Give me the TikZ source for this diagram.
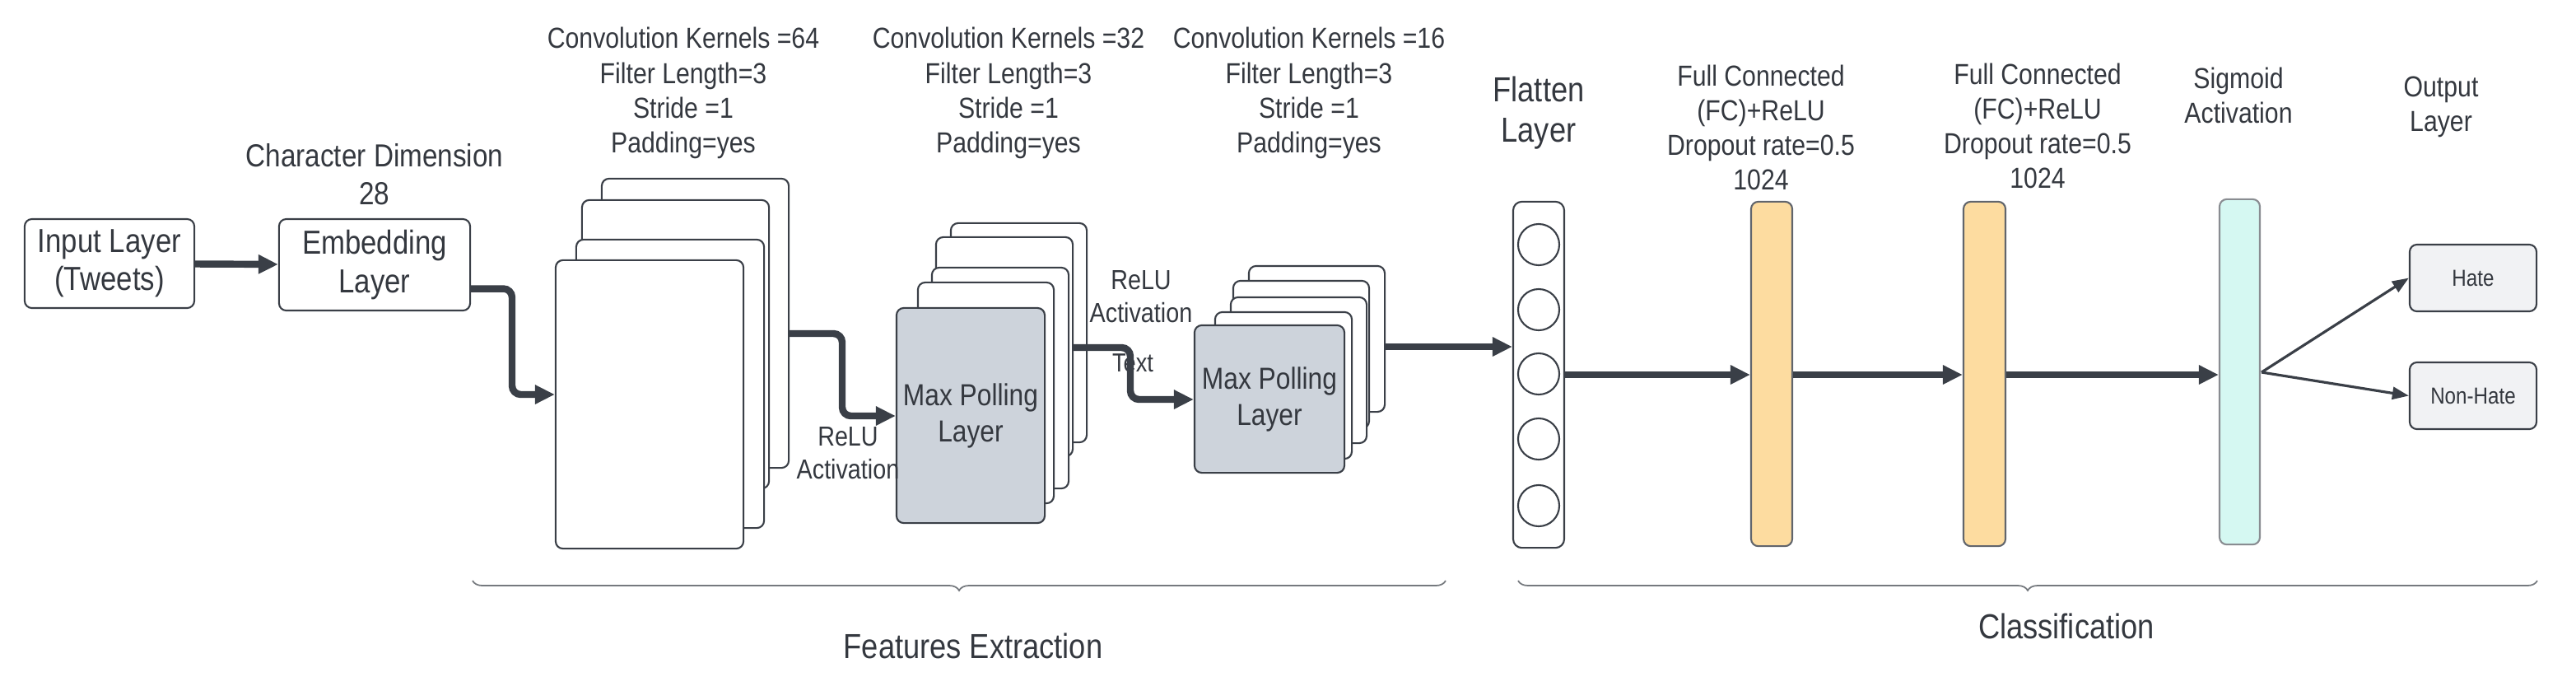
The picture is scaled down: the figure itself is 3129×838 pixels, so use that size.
\documentclass[tikz,border=0pt]{standalone}
\usepackage{fontspec}
\setmainfont{Liberation Sans}[FakeStretch=0.86]
\usetikzlibrary{arrows.meta,decorations.pathreplacing}
\definecolor{txt}{HTML}{34383F}
\definecolor{ln}{HTML}{3A3F47}
\definecolor{pool}{HTML}{CDD3DB}
\definecolor{fc}{HTML}{FDDCA0}
\definecolor{sg}{HTML}{D5F8F2}
\definecolor{outb}{HTML}{F1F2F4}
\begin{document}
\begin{tikzpicture}[x=0.01cm,y=-0.01cm,
  every node/.style={text=txt,inner sep=0pt,align=center},
  box/.style={draw=ln,line width=0.6pt,rounded corners=2.5pt,fill=white},
  arr/.style={draw=ln,line width=2.4pt,rounded corners=3pt,-{Triangle[length=0.24cm,width=0.22cm]}},
  thin/.style={draw=ln,line width=0.9pt,-{Triangle[length=0.2cm,width=0.15cm]}},
  brc/.style={draw=ln!70,line width=0.5pt,decorate,decoration={brace,amplitude=0.12cm}},
  top/.style={font=\fontsize{10}{12}\selectfont},
  big/.style={font=\fontsize{11.5}{13.2}\selectfont}]
\useasboundingbox (0,0) rectangle (3129,838);
% input and embedding
\node[box,minimum width=2.06cm,minimum height=1.08cm,big] (inp) at (133,320) {Input Layer\\(Tweets)};
\node[box,minimum width=2.32cm,minimum height=1.11cm,big] (emb) at (455,321.5) {Embedding\\Layer};
\node[font=\fontsize{11}{13}\selectfont] (chd) at (455,212) {Character Dimension\\28};
% conv1
\node[box,minimum width=2.27cm,minimum height=3.51cm] (c1d) at (844.5,392.5) {};
\node[box,minimum width=2.27cm,minimum height=3.50cm] (c1c) at (820.5,418) {};
\node[box,minimum width=2.28cm,minimum height=3.50cm] (c1b) at (814,466) {};
\node[box,minimum width=2.28cm,minimum height=3.50cm] (c1a) at (789,491) {};
% pool1
\node[box,minimum width=1.65cm,minimum height=2.66cm] (p1e) at (1237.5,404) {};
\node[box,minimum width=1.66cm,minimum height=2.66cm] (p1d) at (1220,421) {};
\node[box,minimum width=1.66cm,minimum height=2.68cm] (p1c) at (1215,459) {};
\node[box,minimum width=1.65cm,minimum height=2.68cm] (p1b) at (1197.5,477) {};
\node[box,fill=pool,minimum width=1.80cm,minimum height=2.61cm,font=\fontsize{10.5}{12.5}\selectfont] (p1a) at (1179,504.5) {Max Polling\\Layer};
% pool2
\node[box,minimum width=1.65cm,minimum height=1.77cm] (p2e) at (1599.5,411.5) {};
\node[box,minimum width=1.65cm,minimum height=1.79cm] (p2d) at (1580.5,430.5) {};
\node[box,minimum width=1.65cm,minimum height=1.77cm] (p2c) at (1577.5,449.5) {};
\node[box,minimum width=1.66cm,minimum height=1.78cm] (p2b) at (1559,468) {};
\node[box,fill=pool,minimum width=1.82cm,minimum height=1.79cm,font=\fontsize{10.5}{12.5}\selectfont] (p2a) at (1542,484.5) {Max Polling\\Layer};
% top labels
\node[top] (t1) at (830,113) {Convolution Kernels =64\\Filter Length=3\\Stride =1\\Padding=yes};
\node[top] (t2) at (1225,113) {Convolution Kernels =32\\Filter Length=3\\Stride =1\\Padding=yes};
\node[top] (t3) at (1590,113) {Convolution Kernels =16\\Filter Length=3\\Stride =1\\Padding=yes};
\node[font=\fontsize{9.5}{11.4}\selectfont] (r1) at (1030,550) {ReLU\\Activation};
\node[font=\fontsize{9.5}{11.4}\selectfont] (r2) at (1386,360) {ReLU\\Activation};
\node[font=\fontsize{9}{11}\selectfont] (tx) at (1376,441) {Text};
% flatten
\node[box,rounded corners=3pt,minimum width=0.62cm,minimum height=4.20cm] (flat) at (1869,455) {};
\foreach \i/\yy in {1/297,2/376,3/454,4/533,5/614}
  \node[draw=ln,line width=0.6pt,circle,minimum size=0.5cm] (fc\i) at (1869,\yy) {};
\node[font=\fontsize{12}{13.7}\selectfont] (flt) at (1869,137) {Flatten\\Layer};
% FC + sigmoid
\node[box,fill=fc,draw=ln!80,minimum width=0.50cm,minimum height=4.18cm] (fa) at (2152,454) {};
\node[box,fill=fc,draw=ln!80,minimum width=0.51cm,minimum height=4.18cm] (fb) at (2410.5,454) {};
\node[box,fill=sg,draw=ln!60,minimum width=0.49cm,minimum height=4.19cm] (sig) at (2720.5,451.5) {};
\node[top] (fat) at (2139,155) {Full Connected\\(FC)+ReLU\\Dropout rate=0.5\\1024};
\node[top] (fbt) at (2475,153) {Full Connected\\(FC)+ReLU\\Dropout rate=0.5\\1024};
\node[top] (sgt) at (2719,116) {Sigmoid\\Activation};
\node[top] (olt) at (2965,130) {Output\\Layer};
% outputs
\node[box,fill=outb,minimum width=1.54cm,minimum height=0.81cm,font=\fontsize{8}{10}\selectfont] (hate) at (3004,337.5) {Hate};
\node[box,fill=outb,minimum width=1.54cm,minimum height=0.81cm,font=\fontsize{8}{10}\selectfont] (nh) at (3004,480.5) {Non-Hate};
% arrows
\draw[arr] (inp) -- (emb);
\draw[arr] ([yshift=-0.29cm]emb.east) -| (622,479) -- (c1a.west |- 622,479);
\draw[arr] (c1d.east |- 0,405) -| (1023,505) -- (p1a.west |- 0,505);
\draw[arr] (p1d.east |- 0,422) -| (1373,485) -- (p2a.west |- 0,485);
\draw[arr] (p2e.east |- 0,421) -- (flat.west |- 0,421);
\draw[arr] (flat.east |- 0,455) -- (fa.west |- 0,455);
\draw[arr] (fa.east |- 0,455) -- (fb.west |- 0,455);
\draw[arr] (fb.east |- 0,455) -- (sig.west |- 0,455);
\coordinate (so) at (2747,452);
\draw[thin] (so) -- (hate.west);
\draw[thin] (so) -- (nh.west);
% braces
\draw[brc] (1756,705) -- (574,705);
\node[font=\fontsize{12}{14}\selectfont] (fe) at (1182,784) {Features Extraction};
\draw[brc] (3082,705) -- (1844,705);
\node[font=\fontsize{12}{14}\selectfont] (cl) at (2510,760) {Classification};
\end{tikzpicture}
\end{document}
